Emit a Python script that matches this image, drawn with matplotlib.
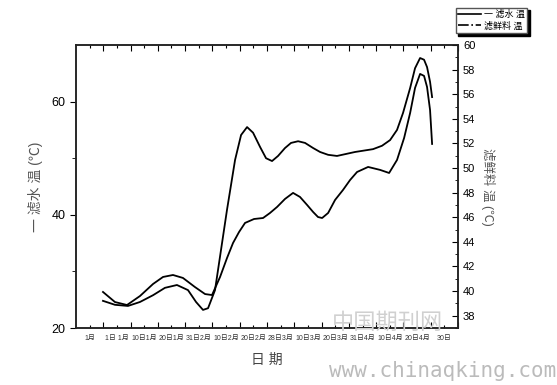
import matplotlib
matplotlib.use("Agg")
import matplotlib.pyplot as plt
from matplotlib.lines import Line2D

plt.rcParams['font.family'] = ['Liberation Sans', 'Noto Sans CJK SC', 'DejaVu Sans']

# x 位置（刻度单位）
x_water = [1.98, 2.86, 3.81, 4.69, 5.65, 6.52, 7.40, 8.21, 8.80, 9.31, 9.68, 10.19,
           10.63, 11.07, 11.66, 12.10, 12.54, 12.98, 13.49, 13.93, 14.37, 14.81,
           15.32, 15.76, 16.28, 16.79, 17.38, 17.89, 18.48, 19.13, 20.45, 21.77,
           22.43, 23.02, 23.53, 23.97, 24.49, 24.85, 25.22, 25.51, 25.73, 25.95, 26.10]
water_temp = [24.8, 24.1, 23.9, 24.6, 25.8, 27.1, 27.6, 26.7, 24.6, 23.2, 23.5, 26.7,
              33.8, 40.9, 49.7, 54.1, 55.5, 54.5, 52.0, 50.0, 49.5, 50.4,
              51.8, 52.7, 53.0, 52.7, 51.8, 51.1, 50.6, 50.4, 51.1, 51.6,
              52.2, 53.2, 55.0, 58.0, 62.4, 65.9, 67.7, 67.4, 66.1, 63.5, 60.8]

x_feed = [1.98, 2.86, 3.74, 4.69, 5.65, 6.38, 7.11, 7.84, 8.72, 9.46, 9.97, 10.56,
          11.07, 11.51, 11.95, 12.39, 13.05, 13.71, 14.22, 14.74, 15.32, 15.91,
          16.42, 16.94, 17.38, 17.74, 18.04, 18.48, 18.99, 19.57, 20.09, 20.60,
          21.41, 22.29, 22.95, 23.53, 24.05, 24.49, 24.85, 25.22, 25.51, 25.73, 25.95, 26.10]
feed_temp = [39.93, 39.11, 38.87, 39.60, 40.58, 41.15, 41.31, 41.07, 40.33, 39.76, 39.68, 41.15,
             42.69, 43.91, 44.80, 45.54, 45.86, 45.94, 46.35, 46.84, 47.49, 47.98,
             47.65, 47.00, 46.43, 46.02, 45.94, 46.35, 47.41, 48.22, 49.03, 49.68,
             50.09, 49.85, 49.60, 50.66, 52.45, 54.48, 56.51, 57.65, 57.49, 56.59, 54.72, 51.96]

date_labels = ["1月", "1日 1月", "10日1月", "20日1月", "31日2月", "10日2月", "20日2月",
               "28日3月", "10日3月", "20日3月", "31日4月", "10日4月", "20日4月", "30日"]

fig = plt.figure(figsize=(5.57, 3.85), dpi=100)
ax = fig.add_axes([0.1364, 0.148, 0.6859, 0.7351])
ax2 = ax.twinx()

ax.plot(x_water, water_temp, color='black', lw=1.3, solid_joinstyle='round')
ax2.plot(x_feed, feed_temp, color='black', lw=1.3, solid_joinstyle='round')

ax.set_xlim(0, 28)
ax.set_ylim(20, 70)
ax2.set_ylim(37, 60)

# x 轴刻度
ax.set_xticks(range(2, 29, 2))
ax.set_xticklabels([])
ax.set_xticks(range(1, 28, 2), date_labels, minor=True)
ax.tick_params(axis='x', which='both', direction='in', top=True, bottom=True)
ax.tick_params(axis='x', which='major', length=4, width=0.8)
ax.tick_params(axis='x', which='minor', length=2, width=0.8, labelsize=5, pad=5,
               labelcolor='#333333')

# 左 y 轴
ax.set_yticks([20, 40, 60])
ax.set_yticks([30, 50], minor=True)
ax.tick_params(axis='y', which='both', direction='out', labelsize=9)
ax.tick_params(axis='y', which='major', length=4)
ax.tick_params(axis='y', which='minor', length=3)

# 右 y 轴
ax2.set_yticks(range(38, 61, 2))
ax2.set_yticks(range(37, 61, 1), minor=True)
ax2.tick_params(axis='y', which='both', direction='in', labelsize=8)
ax2.tick_params(axis='y', which='major', length=4)
ax2.tick_params(axis='y', which='minor', length=2)

for a in (ax, ax2):
    for s in a.spines.values():
        s.set_linewidth(1.1)
        s.set_color('#222222')

ax.set_xlabel("日 期", fontsize=10, color='#444444', labelpad=8)
ax.set_ylabel("一 滤水 温 (℃)", fontsize=10, color='#555555', labelpad=6)
ax2.set_ylabel("滤鲜料 温 (℃)", fontsize=9, color='#555555', rotation=270, labelpad=14)

handles = [Line2D([], [], color='black', lw=1.2),
           Line2D([], [], color='black', lw=1.2, linestyle='-.')]
leg = fig.legend(handles, ["一 滤水 温", "滤鲜料 温"], loc='upper left',
                 bbox_to_anchor=(0.818, 0.98), fontsize=6.5, frameon=True, fancybox=False,
                 shadow={'color': 'black', 'alpha': 1}, framealpha=1, edgecolor='#555555',
                 handlelength=2.6, borderpad=0.25, labelspacing=0.25, handletextpad=0.3,
                 borderaxespad=0)

# 水印
fig.text(0.595, 0.145, "中国期刊网", fontsize=16, color='#d0d0d0',
         family=['Noto Sans CJK SC'], zorder=0)
fig.text(0.59, 0.02, "www.chinaqking.com", fontsize=15, color='#bbbbbb',
         family=['DejaVu Sans Mono'])

fig.savefig("out.png", dpi=100)
